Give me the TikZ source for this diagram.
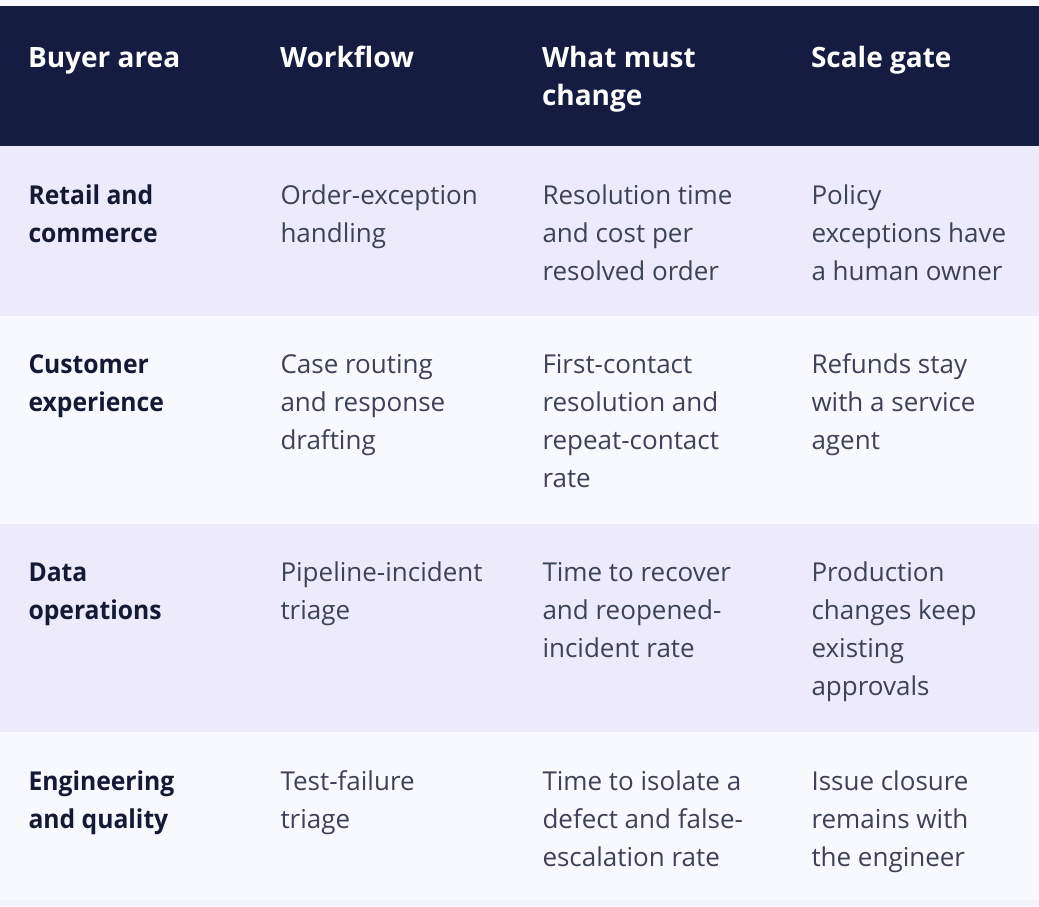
\documentclass[tikz,border=0pt]{standalone}
\usepackage{fontspec}
\setmainfont{Open Sans}
\IfFontExistsTF{Open Sans SemiBold}
  {\newfontfamily\keyfont{Open Sans SemiBold}}
  {\newfontfamily\keyfam{Open Sans}[FakeStretch=0.95]\newcommand\keyfont{\keyfam\bfseries}}
\IfFontExistsTF{Open Sans ExtraBold}
  {\newfontfamily\headfont{Open Sans ExtraBold}\newcommand\headsize{\fontsize{27}{38}\selectfont}}
  {\newcommand\headfont{\bfseries}\newcommand\headsize{\fontsize{28}{38}\selectfont}}
\definecolor{pagebg}{HTML}{F9F9FD}
\definecolor{headbg}{HTML}{141C41}
\definecolor{rowlav}{HTML}{EDEBFB}
\definecolor{rowwhite}{HTML}{F8F9FE}
\definecolor{footbg}{HTML}{F2F3F9}
\definecolor{keytext}{HTML}{141A36}
\definecolor{bodytext}{HTML}{3C4257}
\newcommand\celllines[1]{\vtop{\hsize=250pt\raggedright\noindent #1\par}}
\tikzset{
  cellbase/.style={anchor=base west, inner sep=0pt, outer sep=0pt},
  headcell/.style={cellbase, text=white, font=\headsize\headfont},
  keycell/.style={cellbase, text=keytext, font=\fontsize{26}{38}\selectfont\keyfont},
  bodycell/.style={cellbase, text=bodytext, font=\fontsize{26}{38}\selectfont},
}
\begin{document}
\begin{tikzpicture}[x=1pt,y=-1pt]
\useasboundingbox (0,0) rectangle (1039,906);
\fill[pagebg] (0,0) rectangle (1039,906);
\fill[footbg] (0,900) rectangle (1039,906);
\fill[headbg] (0,6) rectangle (1039,146);
\fill[rowlav] (0,146) rectangle (1039,316);
\fill[rowwhite] (0,316) rectangle (1039,524);
\fill[rowlav] (0,524) rectangle (1039,732);
\fill[rowwhite] (0,732) rectangle (1039,900);
% header
\node[headcell] (h1) at (28,67) {\celllines{Buyer area}};
\node[headcell] (h2) at (280,67) {\celllines{Workflow}};
\node[headcell] (h3) at (542,67) {\celllines{What must\\change}};
\node[headcell] (h4) at (811,67) {\celllines{Scale gate}};
% row 1
\node[keycell] (r1c1) at (28.5,204) {\celllines{Retail and\\commerce}};
\node[bodycell] (r1c2) at (280.5,204) {\celllines{Order-exception\\handling}};
\node[bodycell] (r1c3) at (542.5,204) {\celllines{Resolution time\\and cost per\\resolved order}};
\node[bodycell] (r1c4) at (811.5,204) {\celllines{Policy\\exceptions have\\a human owner}};
% row 2
\node[keycell] (r2c1) at (28.5,373.5) {\celllines{Customer\\experience}};
\node[bodycell] (r2c2) at (280.5,373.5) {\celllines{Case routing\\and response\\drafting}};
\node[bodycell] (r2c3) at (542.5,373.5) {\celllines{First-contact\\resolution and\\repeat-contact\\rate}};
\node[bodycell] (r2c4) at (811.5,373.5) {\celllines{Refunds stay\\with a service\\agent}};
% row 3
\node[keycell] (r3c1) at (28.5,581) {\celllines{Data\\operations}};
\node[bodycell] (r3c2) at (280.5,581) {\celllines{Pipeline-incident\\triage}};
\node[bodycell] (r3c3) at (542.5,581) {\celllines{Time to recover\\and reopened-\\incident rate}};
\node[bodycell] (r3c4) at (811.5,581) {\celllines{Production\\changes keep\\existing\\approvals}};
% row 4
\node[keycell] (r4c1) at (28.5,790) {\celllines{Engineering\\and quality}};
\node[bodycell] (r4c2) at (280.5,790) {\celllines{Test-failure\\triage}};
\node[bodycell] (r4c3) at (542.5,790) {\celllines{Time to isolate a\\defect and false-\\escalation rate}};
\node[bodycell] (r4c4) at (811.5,790) {\celllines{Issue closure\\remains with\\the engineer}};
\end{tikzpicture}
\end{document}
